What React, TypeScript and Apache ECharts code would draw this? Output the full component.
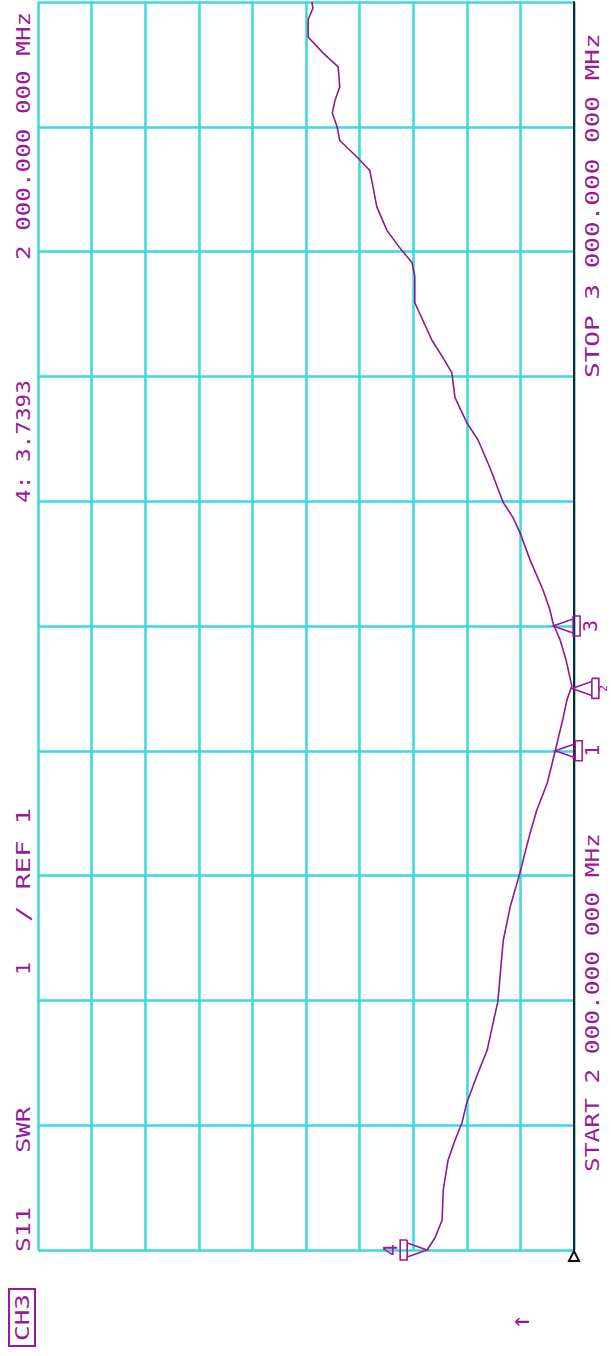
import React, { useEffect, useRef } from "react";
import * as echarts from "echarts";

// Frequency (MHz) of each trace point, and the SWR read at that point
const freqMHz = [
  2000, 2010, 2024, 2048, 2072, 2088, 2102, 2118, 2142, 2160, 2182, 2199, 2219,
  2248, 2275, 2302, 2334, 2353, 2374, 2400, 2425, 2441, 2452, 2473, 2489, 2502,
  2513, 2529, 2553, 2575, 2587, 2599, 2627, 2649, 2663, 2683, 2703, 2716, 2729,
  2745, 2759, 2780, 2791, 2803, 2817, 2836, 2852, 2865, 2875, 2889, 2900, 2911,
  2921, 2932, 2948, 2959, 2972, 2986, 2995, 3000,
];
const swrValues = [
  3.739, 3.59, 3.46, 3.44, 3.35, 3.22, 3.09, 3.0, 2.79, 2.62, 2.51, 2.42, 2.38,
  2.32, 2.19, 2.01, 1.82, 1.69, 1.5, 1.35, 1.21, 1.13, 1.04, 1.15, 1.26, 1.39,
  1.45, 1.58, 1.82, 2.01, 2.14, 2.32, 2.57, 2.79, 3.0, 3.22, 3.28, 3.46, 3.65,
  3.82, 3.97, 3.97, 4.02, 4.25, 4.49, 4.68, 4.75, 4.81, 5.03, 5.37, 5.42, 5.51,
  5.46, 5.37, 5.4, 5.68, 5.96, 5.96, 5.87, 5.89,
];

// Markers
const markerIds = ["1", "2", "3", "4"];
const markerFreqMHz = [2400, 2450, 2500, 2000];
const markerSwr = [1.35, 1.04, 1.39, 3.7393];

// Scales
const swrMin = 1; // REF 1
const swrMax = 11;
const swrStep = 1; // 1 / div
const freqStart = 2000;
const freqStop = 3000;
const freqStep = 100;

// Annotation texts
const leftTexts = ["2 000.000 000 MHz", "4: 3.7393", "/ REF 1", "1", "SWR", "S11"];
const rightTexts = ["STOP 3 000.000 000 MHz", "START 2 000.000 000 MHz"];
const channelText = "CH3";

const PURPLE_LINE = "#8C1A8C";
const PURPLE_TEXT = "#991A99";
const CYAN = "#3AD8E0";
const FONT = '"DejaVu Sans Mono", monospace';
const FS = 20;

function measure(text: string): number {
  const c = document.createElement("canvas").getContext("2d");
  if (!c) return text.length * FS * 0.6;
  c.font = `${FS}px ${FONT}`;
  return c.measureText(text).width;
}

// rotated text reading bottom-to-top, spanning yBottom..yTop
function vText(text: string, x: number, yBottom: number, yTop: number, color = PURPLE_TEXT) {
  const w = measure(text);
  return {
    type: "text",
    x,
    y: yBottom,
    rotation: Math.PI / 2,
    scaleX: (yBottom - yTop) / w,
    style: {
      text,
      fill: color,
      font: `${FS}px ${FONT}`,
      align: "left",
      verticalAlign: "middle",
    },
    silent: true,
  };
}

export default function App() {
  const ref = useRef<HTMLDivElement>(null);

  useEffect(() => {
    if (!ref.current) return;
    const chart = echarts.init(ref.current, null, { renderer: "svg" });
    chart.setOption({
      animation: false,
      backgroundColor: "#ffffff",
      grid: { left: 38, right: 37, top: 2, bottom: 106, containLabel: false },
      xAxis: {
        type: "value",
        min: swrMin,
        max: swrMax,
        interval: swrStep,
        inverse: true,
        axisLabel: { show: false },
        axisTick: { show: false },
        axisLine: { show: false },
        splitLine: { show: true, lineStyle: { color: CYAN, width: 2.5 } },
      },
      yAxis: {
        type: "value",
        min: freqStart,
        max: freqStop,
        interval: freqStep,
        position: "right",
        axisLabel: { show: false },
        axisTick: { show: false },
        axisLine: { show: true, onZero: false, lineStyle: { color: "#222222", width: 2 } },
        splitLine: { show: true, lineStyle: { color: CYAN, width: 2.5 } },
      },
      series: [
        {
          type: "line",
          data: freqMHz.map((f, i) => [swrValues[i], f]),
          showSymbol: false,
          symbol: "none",
          lineStyle: { color: PURPLE_LINE, width: 1.6 },
          z: 5,
        },
      ],
    });

    const g: any[] = [];
    // left column texts
    g.push(vText(leftTexts[0], 23, 260, 12));
    g.push(vText(leftTexts[1], 23, 503, 380));
    g.push(vText(leftTexts[2], 23, 922, 808));
    g.push(vText(leftTexts[3], 23, 975, 962));
    g.push(vText(leftTexts[4], 23, 1153, 1107));
    g.push(vText(leftTexts[5], 23, 1252, 1207));
    // right column
    g.push(vText(rightTexts[0], 592, 378, 33));
    g.push(vText(rightTexts[1], 592, 1172, 833));
    // channel box
    g.push({
      type: "rect",
      shape: { x: 9, y: 1289, width: 26, height: 57 },
      style: { fill: "none", stroke: PURPLE_TEXT, lineWidth: 2 },
      silent: true,
    });
    g.push(vText(channelText, 22, 1341, 1294));
    // arrow
    g.push({
      type: "text",
      x: 520,
      y: 1322,
      rotation: Math.PI / 2,
      style: { text: "↑", fill: PURPLE_TEXT, font: `26px ${FONT}`, align: "center", verticalAlign: "middle" },
      silent: true,
    });
    // reference triangle at bottom of the black line
    const refPt = chart.convertToPixel({ gridIndex: 0 }, [swrMin, freqStart]) as number[];
    g.push({
      type: "polygon",
      shape: {
        points: [
          [refPt[0], refPt[1] + 1],
          [refPt[0] - 5, refPt[1] + 11],
          [refPt[0] + 5, refPt[1] + 11],
        ],
      },
      style: { fill: "none", stroke: "#111111", lineWidth: 2 },
      silent: true,
    });

    // markers
    markerIds.forEach((id, i) => {
      const p = chart.convertToPixel({ gridIndex: 0 }, [markerSwr[i], markerFreqMHz[i]]) as number[];
      const dir = id === "4" ? -1 : 1; // body extends to the right (1) or left (-1)
      const tx = p[0];
      const ty = p[1];
      const b = 20;
      const e = 27;
      g.push({
        type: "polyline",
        shape: {
          points: [
            [tx + dir * b, ty - 7],
            [tx, ty],
            [tx + dir * b, ty + 7],
          ],
        },
        style: { stroke: PURPLE_TEXT, lineWidth: 1.6, fill: "none" },
        z: 10,
        silent: true,
      });
      g.push({
        type: "polyline",
        shape: {
          points: [
            [tx + dir * b, ty - 10],
            [tx + dir * e, ty - 10],
            [tx + dir * e, ty + 10],
            [tx + dir * b, ty + 10],
            [tx + dir * b, ty - 10],
          ],
        },
        style: { stroke: PURPLE_TEXT, lineWidth: 1.6, fill: "none" },
        z: 10,
        silent: true,
      });
      let lx = tx + dir * (e + 10);
      let fs = FS;
      if (lx > 602) {
        lx = 603;
        fs = 11;
      }
      g.push({
        type: "text",
        x: lx,
        y: ty,
        rotation: Math.PI / 2,
        style: { text: id, fill: PURPLE_TEXT, font: `${fs}px ${FONT}`, align: "center", verticalAlign: "middle" },
        z: 10,
        silent: true,
      });
    });

    chart.setOption({ graphic: { elements: g } });
    return () => chart.dispose();
  }, []);

  return (
    <div
      ref={ref}
      style={{ position: "absolute", left: 0, top: 0, width: 611, height: 1356, background: "#fff" }}
    />
  );
}
